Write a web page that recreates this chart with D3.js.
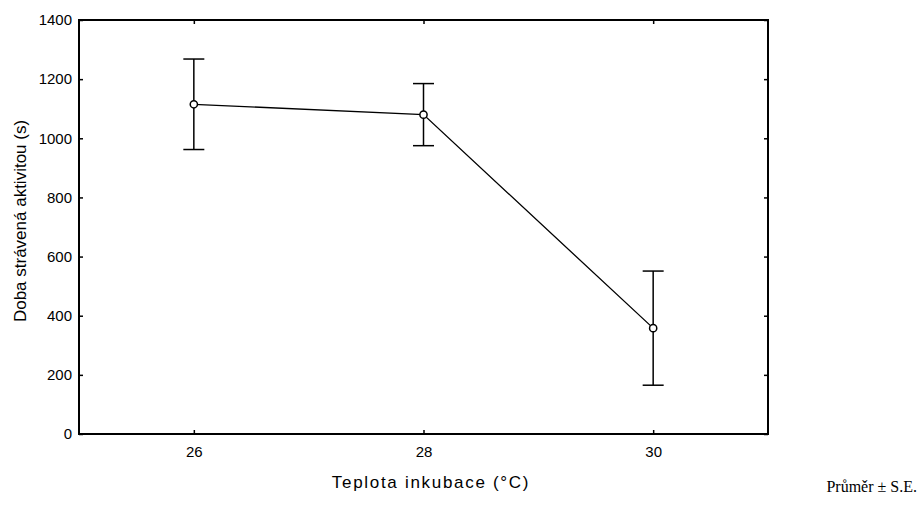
<!DOCTYPE html>
<html>
<head>
<meta charset="utf-8">
<script src="https://cdn.jsdelivr.net/npm/d3@7"></script>
<style>
  html, body { margin: 0; padding: 0; background: #fff; }
  svg { display: block; }
  text { fill: #000; }
</style>
</head>
<body>
<svg id="chart" width="920" height="512"></svg>
<script>
// Incubation temperature (°C) against time spent active (s): mean ± S.E.
const temperatures = [26, 28, 30];
const meanValues = [1115, 1080, 358];
const seValues = [153, 105, 193];
const xTicks = [26, 28, 30];
const yTicks = [0, 200, 400, 600, 800, 1000, 1200, 1400];

(function () {
  const svg = d3.select("#chart");
  const plotLeft = 79, plotRight = 768, plotTop = 20, plotBottom = 434;

  const x = d3.scaleLinear().domain([25, 31]).range([plotLeft, plotRight]);
  const y = d3.scaleLinear().domain([0, 1400]).range([plotBottom, plotTop]);

  const font = "'Liberation Sans', Arial, sans-serif";

  // Axes: labelled left and bottom, mirrored inward ticks on top and right
  const axisStyle = g => {
    g.select(".domain").remove();
    g.selectAll(".tick line").attr("stroke", "#000").attr("stroke-width", 1.5);
    g.selectAll(".tick text").attr("font-family", font).attr("font-size", 15).attr("fill", "#000");
  };

  svg.append("g").attr("transform", `translate(${plotLeft},0)`)
    .call(d3.axisLeft(y).tickValues(yTicks).tickFormat(d3.format("d")).tickSizeInner(-4).tickPadding(7))
    .call(axisStyle);
  svg.append("g").attr("transform", `translate(${plotRight},0)`)
    .call(d3.axisRight(y).tickValues(yTicks).tickSizeInner(-4).tickFormat(""))
    .call(axisStyle);
  svg.append("g").attr("transform", `translate(0,${plotBottom})`)
    .call(d3.axisBottom(x).tickValues(xTicks).tickFormat(d3.format("d")).tickSizeInner(-4).tickPadding(12))
    .call(axisStyle);
  svg.append("g").attr("transform", `translate(0,${plotTop})`)
    .call(d3.axisTop(x).tickValues(xTicks).tickSizeInner(-4).tickFormat(""))
    .call(axisStyle);

  // Plot frame
  svg.append("rect")
    .attr("x", x(25)).attr("y", y(1400))
    .attr("width", x(31) - x(25)).attr("height", y(0) - y(1400))
    .attr("fill", "none").attr("stroke", "#000").attr("stroke-width", 2);

  const data = temperatures.map((t, i) => ({ t, m: meanValues[i], se: seValues[i] }));

  // Error bars
  const capHalf = 10.5;
  const eb = svg.append("g").attr("stroke", "#000").attr("stroke-width", 1.5);
  data.forEach(d => {
    eb.append("line").attr("x1", x(d.t)).attr("x2", x(d.t)).attr("y1", y(d.m + d.se)).attr("y2", y(d.m - d.se));
    eb.append("line").attr("x1", x(d.t) - capHalf).attr("x2", x(d.t) + capHalf).attr("y1", y(d.m + d.se)).attr("y2", y(d.m + d.se));
    eb.append("line").attr("x1", x(d.t) - capHalf).attr("x2", x(d.t) + capHalf).attr("y1", y(d.m - d.se)).attr("y2", y(d.m - d.se));
  });

  // Mean line
  svg.append("path").datum(data)
    .attr("fill", "none").attr("stroke", "#000").attr("stroke-width", 1.3)
    .attr("d", d3.line().x(d => x(d.t)).y(d => y(d.m)));

  // Mean markers
  svg.append("g").selectAll("circle").data(data).join("circle")
    .attr("cx", d => x(d.t)).attr("cy", d => y(d.m)).attr("r", 3.6)
    .attr("fill", "#fff").attr("stroke", "#000").attr("stroke-width", 1.5);

  // Axis titles
  svg.append("text")
    .attr("x", 431).attr("y", 488)
    .attr("text-anchor", "middle")
    .attr("font-family", font).attr("font-size", 17).attr("letter-spacing", 1.7)
    .text("Teplota inkubace (°C)");

  svg.append("text")
    .attr("transform", "translate(26,221) rotate(-90)")
    .attr("text-anchor", "middle")
    .attr("font-family", font).attr("font-size", 17)
    .text("Doba strávená aktivitou (s)");

  // Footnote
  svg.append("text")
    .attr("x", 917).attr("y", 492)
    .attr("text-anchor", "end")
    .attr("font-family", "'Liberation Serif', 'Times New Roman', serif").attr("font-size", 16)
    .text("Průměr ± S.E.");
})();
</script>
</body>
</html>
